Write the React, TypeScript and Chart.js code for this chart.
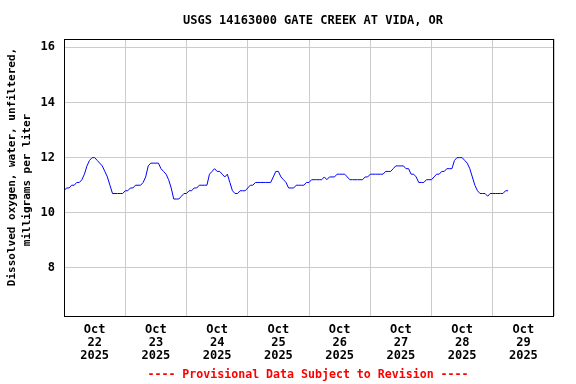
import React, { useEffect, useRef } from "react";
import { Chart, registerables } from "chart.js";

Chart.register(...registerables);

// Hourly dissolved oxygen (mg/L), starting at 00:00 of each day
const oct22 = [10.8, 10.9, 10.9, 11.0, 11.0, 11.1, 11.1, 11.2, 11.4, 11.7, 11.9, 12.0, 12.0, 11.9, 11.8, 11.7, 11.5, 11.3, 11.0, 10.7, 10.7, 10.7, 10.7, 10.7];
const oct23 = [10.8, 10.8, 10.9, 10.9, 11.0, 11.0, 11.0, 11.1, 11.3, 11.7, 11.8, 11.8, 11.8, 11.8, 11.6, 11.5, 11.4, 11.2, 10.9, 10.5, 10.5, 10.5, 10.6, 10.7];
const oct24 = [10.7, 10.8, 10.8, 10.9, 10.9, 11.0, 11.0, 11.0, 11.0, 11.4, 11.5, 11.6, 11.5, 11.5, 11.4, 11.3, 11.4, 11.1, 10.8, 10.7, 10.7, 10.8, 10.8, 10.8];
const oct25 = [10.9, 11.0, 11.0, 11.1, 11.1, 11.1, 11.1, 11.1, 11.1, 11.1, 11.3, 11.5, 11.5, 11.3, 11.2, 11.1, 10.9, 10.9, 10.9, 11.0, 11.0, 11.0, 11.0, 11.1];
const oct26 = [11.1, 11.2, 11.2, 11.2, 11.2, 11.2, 11.3, 11.2, 11.3, 11.3, 11.3, 11.4, 11.4, 11.4, 11.4, 11.3, 11.2, 11.2, 11.2, 11.2, 11.2, 11.2, 11.3, 11.3];
const oct27 = [11.4, 11.4, 11.4, 11.4, 11.4, 11.4, 11.5, 11.5, 11.5, 11.6, 11.7, 11.7, 11.7, 11.7, 11.6, 11.6, 11.4, 11.4, 11.3, 11.1, 11.1, 11.1, 11.2, 11.2];
const oct28 = [11.2, 11.3, 11.4, 11.4, 11.5, 11.5, 11.6, 11.6, 11.6, 11.9, 12.0, 12.0, 12.0, 11.9, 11.8, 11.6, 11.3, 11.0, 10.8, 10.7, 10.7, 10.7, 10.6, 10.7];
const oct29 = [10.7, 10.7, 10.7, 10.7, 10.7, 10.8, 10.8];

const days = [oct22, oct23, oct24, oct25, oct26, oct27, oct28, oct29];
const dayLabels = [
  ["Oct", "22", "2025"],
  ["Oct", "23", "2025"],
  ["Oct", "24", "2025"],
  ["Oct", "25", "2025"],
  ["Oct", "26", "2025"],
  ["Oct", "27", "2025"],
  ["Oct", "28", "2025"],
  ["Oct", "29", "2025"],
];
const yTicks = [8, 10, 12, 14, 16];
const yMin = 6.26;
const yMax = 16.3;

const titleText = "USGS 14163000 GATE CREEK AT VIDA, OR";
const yTitle1 = "Dissolved oxygen, water, unfiltered,";
const yTitle2 = "milligrams per liter";
const footerText = "---- Provisional Data Subject to Revision ----";

const FONT = "'DejaVu Sans Mono', monospace";

export default function App() {
  const ref = useRef<HTMLCanvasElement>(null);

  useEffect(() => {
    const points: { x: number; y: number }[] = [];
    days.forEach((d, di) => d.forEach((v, h) => points.push({ x: di * 24 + h, y: v })));

    const textPlugin = {
      id: "texts",
      afterDraw(chart: any) {
        const { ctx, chartArea } = chart;
        ctx.save();
        ctx.strokeStyle = "#000";
        ctx.lineWidth = 1;
        ctx.strokeRect(
          Math.round(chartArea.left) + 0.5,
          Math.round(chartArea.top) + 0.5,
          Math.round(chartArea.right - chartArea.left) - 1,
          Math.round(chartArea.bottom - chartArea.top)
        );
        ctx.fillStyle = "#000";
        ctx.textAlign = "center";
        ctx.textBaseline = "middle";
        ctx.font = `bold 12px ${FONT}`;
        ctx.fillText(titleText, 313, 21);
        ctx.fillStyle = "#ff0000";
        ctx.font = `bold 11.6px ${FONT}`;
        ctx.fillText(footerText, 308, 375);
        ctx.fillStyle = "#000";
        ctx.font = `bold 11px ${FONT}`;
        ctx.save();
        ctx.translate(12.5, 167);
        ctx.rotate(-Math.PI / 2);
        ctx.fillText(yTitle1, 0, 0);
        ctx.restore();
        ctx.save();
        ctx.translate(27, 180);
        ctx.rotate(-Math.PI / 2);
        ctx.fillText(yTitle2, 0, 0);
        ctx.restore();
        ctx.restore();
      },
    };

    const chart = new Chart(ref.current!, {
      type: "line",
      data: {
        datasets: [
          {
            data: points,
            borderColor: "#0000ff",
            borderWidth: 1,
            pointRadius: 0,
            fill: false,
            tension: 0,
          },
        ],
      },
      options: {
        responsive: false,
        animation: false,
        layout: { padding: { top: 39, right: 22, left: 0, bottom: 0 } },
        plugins: { legend: { display: false }, tooltip: { enabled: false }, title: { display: false } },
        scales: {
          x: {
            type: "linear",
            min: 0,
            max: 192,
            afterFit: (s: any) => {
              s.height = 68;
            },
            afterBuildTicks: (s: any) => {
              const t = [];
              for (let v = 0; v <= 192; v += 12) t.push({ value: v });
              s.ticks = t;
            },
            grid: {
              color: (c: any) => (c.tick && c.tick.value % 24 === 0 ? "#cccccc" : "rgba(0,0,0,0)"),
              drawTicks: false,
              lineWidth: 1,
            },
            border: { display: false },
            ticks: {
              autoSkip: false,
              maxRotation: 0,
              minRotation: 0,
              padding: 7,
              color: "#000",
              font: { family: FONT, size: 12, weight: "bold", lineHeight: 1.1 },
              callback: (v: any) => {
                const n = Number(v);
                if (n % 24 === 12) return dayLabels[(n - 12) / 24] || "";
                return "";
              },
            },
          },
          y: {
            min: yMin,
            max: yMax,
            afterFit: (s: any) => {
              s.width = 64;
            },
            afterBuildTicks: (s: any) => {
              s.ticks = yTicks.map((v) => ({ value: v }));
            },
            grid: { color: "#cccccc", drawTicks: false, lineWidth: 1 },
            border: { display: false },
            ticks: {
              padding: 9,
              color: "#000",
              font: { family: FONT, size: 12, weight: "bold" },
              callback: (v: any) => String(v),
            },
          },
        },
      },
      plugins: [textPlugin],
    });
    return () => chart.destroy();
  }, []);

  return (
    <div style={{ position: "fixed", left: 0, top: 0, width: 576, height: 384, background: "#fff" }}>
      <canvas ref={ref} width={576} height={384} style={{ display: "block" }} />
    </div>
  );
}
